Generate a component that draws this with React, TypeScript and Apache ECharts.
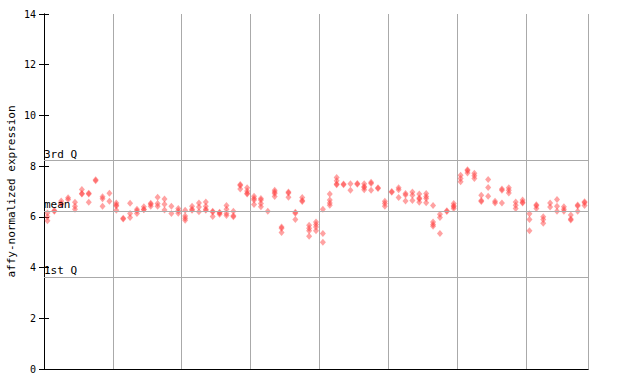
import React, { useEffect, useRef } from "react";
import * as echarts from "echarts";

// expression values per sample column (79 columns, 8 groups)
const group1: number[][] = [
  [6.15, 6.0, 5.85], [6.22, 6.25], [6.63, 6.53, 6.5], [6.75, 6.68], [6.58, 6.42, 6.3],
  [7.08, 6.92, 6.9], [6.93, 6.9, 6.58], [7.46, 7.42], [6.79, 6.71, 6.42], [6.93, 6.62],
];
const group2: number[][] = [
  [6.55, 6.47, 6.43, 6.26], [5.95, 5.92], [6.54, 6.13, 5.97], [6.3, 6.24, 6.13], [6.4, 6.3, 6.28],
  [6.54, 6.5, 6.42], [6.77, 6.53, 6.42], [6.7, 6.5, 6.27], [6.42, 6.13], [6.33, 6.24, 6.14],
];
const group3: number[][] = [
  [6.26, 6.03, 5.87, 5.95], [6.42, 6.3, 6.26], [6.55, 6.39, 6.2], [6.59, 6.42, 6.3, 6.26], [6.22, 6.19, 6.01],
  [6.18, 6.15, 6.1], [6.45, 6.3, 6.13, 6.05], [6.22, 6.04, 6.0], [7.28, 7.24, 7.1], [7.15, 7.02, 6.93, 6.9],
];
const group4: number[][] = [
  [6.81, 6.72, 6.66, 6.49], [6.72, 6.66, 6.53, 6.4], [6.22], [7.05, 6.98, 6.92, 6.8], [5.6, 5.55, 5.38],
  [6.98, 6.94, 6.77], [6.18, 6.14, 5.9], [6.76, 6.65, 6.61], [5.67, 5.55, 5.45, 5.24], [5.8, 5.7, 5.6, 5.45],
];
const group5: number[][] = [
  [6.3, 5.34, 5.0], [6.9, 6.66, 6.55, 6.46], [7.55, 7.42, 7.3, 7.27], [7.3, 7.27], [7.31, 7.05],
  [7.32, 7.29], [7.31, 7.2, 7.16, 7.07], [7.36, 7.32, 7.05], [7.15, 7.12], [6.62, 6.53, 6.42],
];
const group6: number[][] = [
  [7.0, 6.97], [7.15, 7.07, 6.76], [6.92, 6.86, 6.63], [6.98, 6.85, 6.65], [6.9, 6.74, 6.7, 6.58],
  [6.92, 6.8, 6.72, 6.56], [6.45, 5.8, 5.7, 5.63], [6.1, 5.97, 5.34], [6.24, 6.21], [6.53, 6.44, 6.4, 6.33],
];
const group7: number[][] = [
  [7.64, 7.51, 7.38], [7.86, 7.82, 7.73], [7.72, 7.62, 7.51], [6.85, 6.65, 6.61], [7.47, 7.16, 6.81],
  [6.62, 6.55], [7.1, 7.05, 6.55], [7.15, 7.05, 6.94], [6.59, 6.46, 6.33], [6.66, 6.58, 6.55],
];
const group8: number[][] = [
  [6.12, 5.9, 5.45], [6.48, 6.44, 6.33], [6.0, 5.9, 5.75], [6.55, 6.39], [6.68, 6.42, 6.22],
  [6.4, 6.3, 6.22], [6.07, 5.92, 5.88], [6.47, 6.43, 6.22], [6.6, 6.56, 6.45],
];

const yTicks = [0, 2, 4, 6, 8, 10, 12, 14];
const refLineNames = ["3rd Q", "mean", "1st Q"];
const refLineValues = [8.22, 6.22, 3.62];

const FONT = "DejaVu Sans Mono";

export default function App() {
  const ref = useRef<HTMLDivElement>(null);

  useEffect(() => {
    if (!ref.current) return;
    const chart = echarts.init(ref.current, undefined, { renderer: "svg" });
    const columns = [
      ...group1, ...group2, ...group3, ...group4,
      ...group5, ...group6, ...group7, ...group8,
    ];
    const points: number[][] = [];
    columns.forEach((vals, i) => {
      vals.forEach((v) => points.push([i + 0.5, v]));
    });
    const nCols = columns.length;

    chart.setOption({
      animation: false,
      grid: {
        left: 44,
        right: 52,
        top: 14,
        bottom: 15,
        containLabel: false,
        outerBoundsMode: "none",
      },
      xAxis: [
        {
          type: "value",
          min: 0,
          max: nCols,
          interval: 10,
          axisLine: { show: true, onZero: false, lineStyle: { color: "#000", width: 1 } },
          axisTick: { show: false },
          axisLabel: { show: false },
          splitLine: { show: true, lineStyle: { color: "#aaaaaa", width: 1 } },
        },
        {
          type: "value",
          position: "top",
          min: 0,
          max: nCols,
          axisLine: { show: true, lineStyle: { color: "#000", width: 1 } },
          axisTick: { show: false },
          axisLabel: { show: false },
          splitLine: { show: false },
        },
      ],
      yAxis: [
        {
          type: "value",
          min: yTicks[0],
          max: yTicks[yTicks.length - 1],
          interval: 2,
          name: "affy-normalized expression",
          nameLocation: "middle",
          nameGap: 27,
          nameMoveOverlap: false,
          nameTextStyle: { fontFamily: FONT, fontSize: 11, color: "#000" },
          axisLine: { show: true, lineStyle: { color: "#000", width: 1 } },
          axisTick: { show: true, inside: true, length: 5, lineStyle: { color: "#000" } },
          axisLabel: { fontFamily: FONT, fontSize: 10, color: "#000", margin: 8 },
          splitLine: { show: false },
        },
        {
          type: "value",
          position: "right",
          min: yTicks[0],
          max: yTicks[yTicks.length - 1],
          interval: 2,
          axisLine: { show: true, lineStyle: { color: "#000", width: 1 } },
          axisTick: { show: true, inside: true, length: 5, lineStyle: { color: "#000" } },
          axisLabel: { show: false },
          splitLine: { show: false },
        },
      ],
      series: [
        {
          type: "scatter",
          xAxisIndex: 0,
          yAxisIndex: 0,
          data: points,
          symbol: "diamond",
          symbolSize: [6, 7],
          itemStyle: { color: "rgba(255, 60, 60, 0.6)" },
          silent: true,
          markLine: {
            silent: true,
            symbol: "none",
            lineStyle: { color: "#aaaaaa", width: 1, type: "solid" },
            label: {
              show: true,
              position: "insideStartTop",
              distance: [0, 1],
              fontFamily: FONT,
              fontSize: 11,
              color: "#000",
              formatter: (p: any) => p.name,
            },
            data: refLineNames.map((n, k) => ({ name: n, yAxis: refLineValues[k] })),
          },
        },
      ],
    });
    return () => chart.dispose();
  }, []);

  return (
    <div
      ref={ref}
      style={{ position: "absolute", left: 0, top: 0, width: 640, height: 384 }}
    />
  );
}
